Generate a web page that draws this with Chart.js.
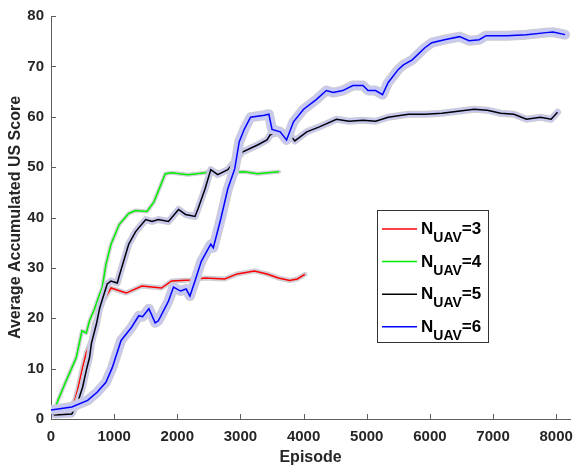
<!DOCTYPE html>
<html>
<head>
<meta charset="utf-8">
<script src="https://cdn.jsdelivr.net/npm/chart.js@4/dist/chart.umd.min.js"></script>
<style>
  html, body { margin: 0; padding: 0; background: #fff; }
  #wrap { width: 582px; height: 467px; }
</style>
</head>
<body>
<div id="wrap"><canvas id="wykres" width="582" height="467"></canvas></div>
<script>
// dane (epizod, wynik)
const red_ep = [0, 100, 270, 375, 420, 500, 560, 640, 690, 720, 830, 950, 1190, 1440, 1750, 1910, 2200, 2440, 2750, 2950, 3220, 3420, 3600, 3780, 3900, 4020];
const red_val = [1.2, 1.0, 1.8, 3.7, 5.7, 10.2, 13.2, 15.6, 19.1, 19.7, 23.5, 26.0, 25.0, 26.4, 26.0, 27.4, 27.6, 28.0, 27.8, 28.8, 29.4, 28.8, 28.0, 27.5, 27.8, 28.7];

const green_ep = [0, 50, 110, 220, 300, 400, 490, 560, 610, 690, 770, 810, 870, 950, 1080, 1230, 1340, 1520, 1630, 1810, 1910, 2170, 2440, 2530, 2700, 3060, 3270, 3610];
const green_val = [1.2, 1.5, 3.7, 7.0, 9.3, 12.2, 17.5, 17.1, 19.5, 21.9, 24.8, 26.0, 30.7, 34.7, 38.6, 40.8, 41.4, 41.2, 43.1, 48.7, 48.9, 48.5, 48.9, 49.3, 49.0, 49.1, 48.7, 49.1];

const black_ep = [0, 60, 330, 420, 500, 560, 610, 640, 720, 770, 840, 890, 950, 1050, 1080, 1230, 1340, 1500, 1600, 1700, 1860, 2020, 2130, 2280, 2330, 2440, 2530, 2640, 2800, 3030, 3270, 3420, 3470, 3650, 3810, 3860, 4050, 4250, 4520, 4720, 4940, 5140, 5340, 5660, 5920, 6190, 6700, 6910, 7120, 7330, 7530, 7750, 7920, 8020];
const black_val = [1.2, 0.8, 1.0, 3.2, 6.3, 9.7, 12.2, 15.0, 18.9, 22.0, 24.8, 26.8, 27.4, 27.0, 28.4, 34.7, 37.2, 39.6, 39.2, 39.6, 39.2, 41.6, 40.6, 40.2, 41.8, 45.7, 49.5, 48.5, 49.5, 53.0, 54.4, 55.4, 56.4, 57.0, 56.0, 55.2, 57.0, 58.0, 59.5, 59.1, 59.3, 59.1, 59.9, 60.5, 60.5, 60.7, 61.5, 61.3, 60.7, 60.5, 59.5, 59.9, 59.5, 60.9];

const blue_ep = [0, 330, 580, 730, 870, 970, 1110, 1270, 1390, 1450, 1550, 1650, 1700, 1860, 1940, 2050, 2140, 2200, 2280, 2380, 2530, 2570, 2690, 2800, 2910, 2980, 3060, 3160, 3380, 3450, 3500, 3630, 3730, 3840, 4000, 4200, 4360, 4470, 4620, 4780, 4940, 5020, 5140, 5250, 5340, 5500, 5580, 5720, 5920, 6030, 6230, 6470, 6620, 6780, 6890, 7220, 7530, 7840, 7950, 8140];
const blue_val = [1.8, 2.4, 3.7, 5.3, 7.3, 10.2, 15.6, 18.1, 20.5, 20.3, 21.9, 19.1, 19.5, 23.4, 26.2, 25.4, 25.8, 24.4, 27.4, 31.3, 34.7, 34.0, 39.8, 45.7, 49.7, 55.0, 57.5, 59.9, 60.3, 60.5, 57.5, 57.0, 55.4, 59.0, 61.5, 63.4, 65.2, 64.8, 65.2, 66.2, 66.2, 65.2, 65.2, 64.4, 66.8, 69.4, 70.3, 71.3, 73.7, 74.7, 75.3, 75.9, 75.1, 75.3, 76.1, 76.1, 76.3, 76.7, 76.8, 76.3];

const x_ticks = [0, 1000, 2000, 3000, 4000, 5000, 6000, 7000, 8000];
const y_ticks = [0, 10, 20, 30, 40, 50, 60, 70, 80];
const legend_nums = ["3", "4", "5", "6"];

const serie = [
    { ep: red_ep, val: red_val, color: "#ff0000", band: "#d0d0dc", bandW: 3 },
    { ep: green_ep, val: green_val, color: "#00ee00", band: "#d8d8e0", bandW: 2 },
    { ep: black_ep, val: black_val, color: "#000000", band: "#c8c8f4", bandW: 5 },
    { ep: blue_ep, val: blue_val, color: "#0000ff", band: "#c8c8f4", bandW: 8 }
];

// każdy zbiór dostaje własną kopię punktów
function punkty(ep, val) {
    return ep.map((e, i) => ({ x: e, y: val[i] }));
}

// Chart.js rysuje zbiory z mniejszym "order" na wierzchu
let datasets = [];
serie.forEach((s, k) => {
    datasets.push({ data: punkty(s.ep, s.val), borderColor: "#cdcdd2", borderWidth: s.bandW + 2, pointRadius: 0,
        borderJoinStyle: "round", borderCapStyle: "round", fill: false, order: 100 - k * 3 });
    datasets.push({ data: punkty(s.ep, s.val), borderColor: s.band, borderWidth: s.bandW, pointRadius: 0,
        borderJoinStyle: "round", borderCapStyle: "round", fill: false, order: 99 - k * 3 });
    datasets.push({ data: punkty(s.ep, s.val), borderColor: s.color, borderWidth: 1.5, pointRadius: 0,
        fill: false, order: 98 - k * 3 });
});

const font_ticks = { family: "'Liberation Sans', Arial, sans-serif", size: 15, weight: "bold" };
const font_title = { family: "'Liberation Sans', Arial, sans-serif", size: 16, weight: "bold" };

// kreski podziałki do wewnątrz (jak w MATLAB) + legenda z indeksem dolnym
const matlabPlugin = {
    id: "matlab",
    afterDraw(chart) {
        const ctx = chart.ctx;
        const xs = chart.scales.x, ys = chart.scales.y;
        const a = chart.chartArea;
        ctx.save();
        ctx.strokeStyle = "#5e5e5e";
        ctx.lineWidth = 1;
        ctx.beginPath();
        x_ticks.forEach(t => {
            let px = Math.round(xs.getPixelForValue(t)) + 0.5;
            ctx.moveTo(px, a.bottom);
            ctx.lineTo(px, a.bottom - 5);
        });
        y_ticks.forEach(t => {
            let py = Math.round(ys.getPixelForValue(t)) + 0.5;
            ctx.moveTo(a.left, py);
            ctx.lineTo(a.left + 5, py);
        });
        ctx.stroke();

        // legenda
        const bx = 377, by = 210, bw = 111, bh = 132;
        ctx.fillStyle = "#fff";
        ctx.fillRect(bx, by, bw, bh);
        ctx.strokeStyle = "#333";
        ctx.strokeRect(bx + 0.5, by + 0.5, bw, bh);
        serie.forEach((s, i) => {
            let ly = 229 + i * 32.6;
            ctx.strokeStyle = s.color;
            ctx.lineWidth = 1.5;
            ctx.beginPath();
            ctx.moveTo(382, ly);
            ctx.lineTo(417, ly);
            ctx.stroke();
            ctx.fillStyle = "#000";
            ctx.textBaseline = "alphabetic";
            ctx.font = "bold 17px 'Liberation Sans', Arial, sans-serif";
            ctx.fillText("N", 421, ly + 5);
            let nw = ctx.measureText("N").width;
            ctx.font = "bold 14px 'Liberation Sans', Arial, sans-serif";
            ctx.fillText("UAV", 421 + nw, ly + 13);
            let uw = ctx.measureText("UAV").width;
            ctx.font = "bold 17px 'Liberation Sans', Arial, sans-serif";
            ctx.fillText("=" + legend_nums[i], 421 + nw + uw, ly + 5);
        });
        ctx.restore();
    }
};

let ctx = document.getElementById("wykres").getContext("2d");
let lineChart = new Chart(ctx, {
    type: "line",
    data: { datasets: datasets },
    options: {
        responsive: false,
        animation: false,
        layout: { padding: { top: 13, right: 4, left: 0, bottom: 0 } },
        plugins: { legend: { display: false }, tooltip: { enabled: false } },
        scales: {
            x: {
                type: "linear",
                min: 0,
                max: 8220,
                afterBuildTicks: s => { s.ticks = x_ticks.map(v => ({ value: v })); },
                afterFit: s => { s.height = 48; },
                grid: { display: false, drawTicks: false },
                border: { display: true, color: "#5e5e5e", width: 1 },
                ticks: { color: "#262626", font: font_ticks, padding: 9, maxRotation: 0, autoSkip: false,
                    callback: v => String(v) },
                title: { display: true, text: "Episode", color: "#262626", font: font_title, padding: { top: 0, bottom: 0 } }
            },
            y: {
                min: 0,
                max: 80,
                afterBuildTicks: s => { s.ticks = y_ticks.map(v => ({ value: v })); },
                afterFit: s => { s.width = 51; },
                grid: { display: false, drawTicks: false },
                border: { display: true, color: "#5e5e5e", width: 1 },
                ticks: { color: "#262626", font: font_ticks, padding: 7, callback: v => String(v) },
                title: { display: true, text: "Average Accumulated US Score", color: "#262626", font: font_title, padding: { top: 6, bottom: 0 } }
            }
        }
    },
    plugins: [matlabPlugin]
});
</script>
</body>
</html>
